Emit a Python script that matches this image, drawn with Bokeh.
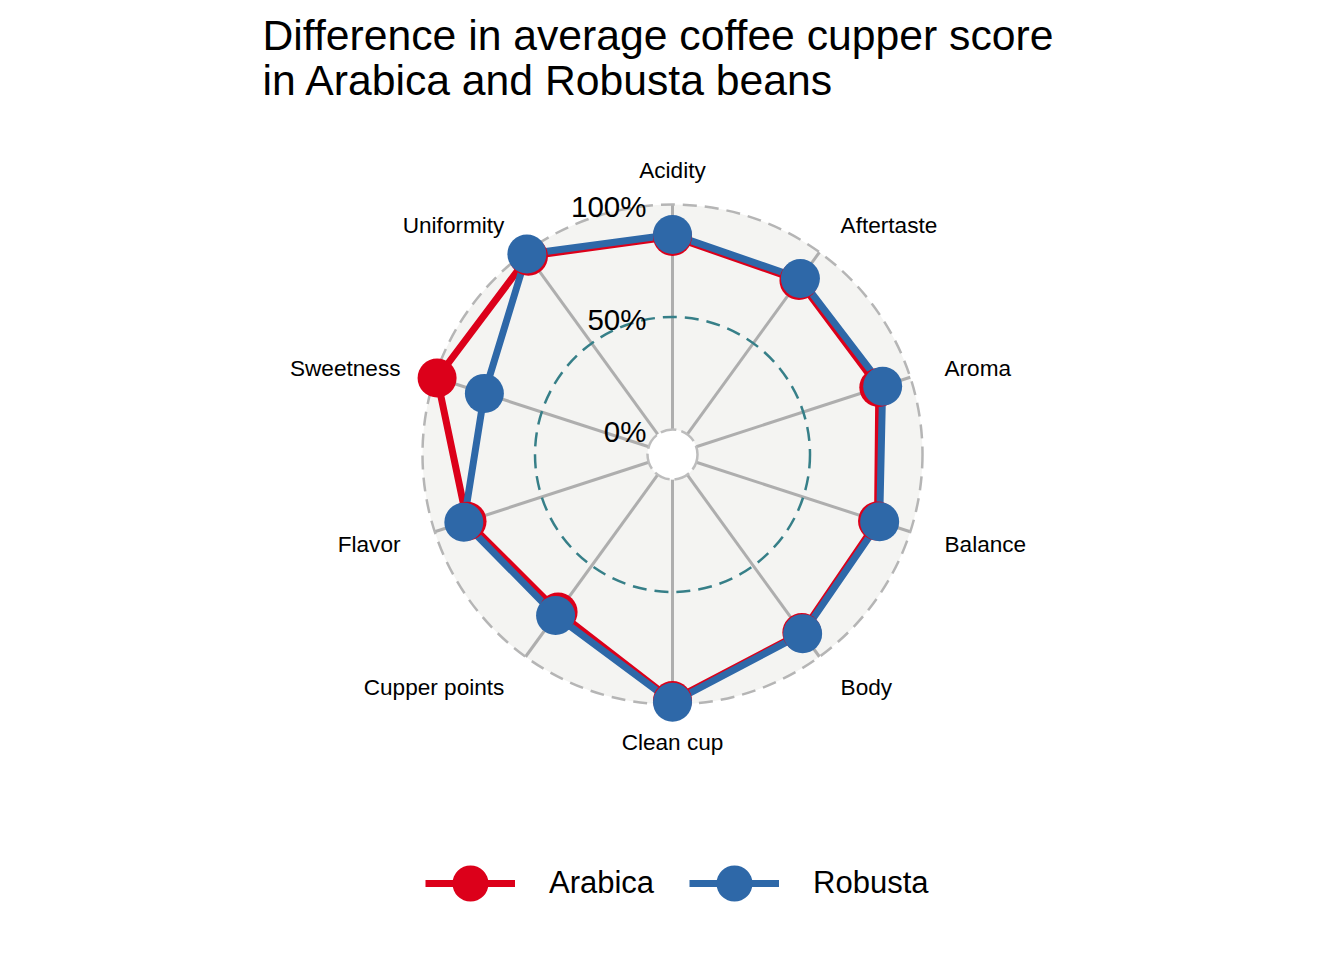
import numpy as np
from bokeh.plotting import figure
from bokeh.models import Range1d, Legend, LegendItem
from bokeh.embed import file_html
from bokeh.resources import INLINE
from bokeh.core.properties import value

# ---------------- data ----------------
categories = ["Acidity", "Aftertaste", "Aroma", "Balance", "Body",
              "Clean cup", "Cupper points", "Flavor", "Sweetness", "Uniformity"]
arabica = [0.858, 0.845, 0.853, 0.847, 0.867, 0.982, 0.754, 0.849, 0.989, 0.978]
robusta = [0.867, 0.856, 0.871, 0.857, 0.873, 0.990, 0.773, 0.864, 0.768, 0.990]
series_names = ["Arabica", "Robusta"]
series_colors = ["#DC001A", "#2E68A8"]
grid_values = [0.0, 0.5, 1.0]
grid_labels = ["0%", "50%", "100%"]
title_lines = ["Difference in average coffee cupper score",
               "in Arabica and Robusta beans"]

# ---------------- geometry ----------------
R = 250.0                       # pixel radius of grid max
grid_min, grid_max = 0.0, 1.0
centre_y = grid_min - (grid_max - grid_min) / 9.0


def rad(v):
    return (np.asarray(v, dtype=float) - centre_y) / (grid_max - centre_y) * R


n = len(categories)
theta = np.arange(n) * 2 * np.pi / n
sin_t, cos_t = np.sin(theta), np.cos(theta)

FONT = value("Liberation Sans")

p = figure(width=1328, height=944,
           x_range=Range1d(-672, 656), y_range=Range1d(-490, 454),
           output_backend="svg", toolbar_location=None,
           x_axis_type=None, y_axis_type=None, min_border=0)
p.outline_line_color = None
p.background_fill_color = "white"
p.border_fill_color = "white"

# background disk
p.circle(x=[0], y=[0], radius=[rad(grid_max)], fill_color="#F4F4F2",
         line_color=None)

# axis lines
r0 = rad(grid_min)
r1 = rad(grid_max)
p.segment(x0=r0 * sin_t, y0=r0 * cos_t, x1=r1 * sin_t, y1=r1 * cos_t,
          line_color="#AEAEAE", line_width=3)

# grid circles
p.circle(x=[0], y=[0], radius=[rad(grid_min)], fill_color="white",
         line_color="#BDBDBD", line_width=2.5, line_dash="16 5")
p.circle(x=[0], y=[0], radius=[rad(0.5)], fill_color=None,
         line_color="#367F88", line_width=2.5, line_dash="14 8")
p.circle(x=[0], y=[0], radius=[rad(grid_max)], fill_color=None,
         line_color="#B5B5B5", line_width=2.5, line_dash="14 8")

# axis labels
rl = rad(grid_max) + 36
lx = rl * sin_t
ly = rl * cos_t - 2
aligns = ["left" if x > 1 else ("right" if x < -1 else "center") for x in lx]
p.text(x=lx, y=ly, text=categories, text_align=aligns, text_baseline="middle",
       text_font=FONT, text_font_size="22.6px", text_color="black")

# series lines then points
line_r = []
for vals, col in zip([arabica, robusta], series_colors):
    r = rad(vals)
    xs = list(r * sin_t) + [r[0] * sin_t[0]]
    ys = list(r * cos_t) + [r[0] * cos_t[0]]
    line_r.append(p.line(xs, ys, line_color=col, line_width=7,
                         line_join="round"))
pt_r = []
for vals, col in zip([arabica, robusta], series_colors):
    r = rad(vals)
    pt_r.append(p.scatter(r * sin_t, r * cos_t, size=39, fill_color=col,
                          line_color=None, marker="circle"))

# grid labels
gr = rad(grid_values)
p.text(x=[-26] * len(gr), y=gr - 2, text=grid_labels, text_align="right",
       text_baseline="middle", text_font=FONT, text_font_size="29.5px",
       text_color="black")

# title
p.text(x=[-410, -410], y=[420, 375], text=title_lines, text_align="left",
       text_baseline="alphabetic", text_font=FONT, text_font_size="42.7px",
       text_color="black")

# legend
items = [LegendItem(label=nm, renderers=[lr, sr])
         for nm, lr, sr in zip(series_names, line_r, pt_r)]
legend = Legend(items=items, location=(425, 11), orientation="horizontal",
                glyph_width=90, glyph_height=100, label_standoff=34,
                spacing=35, padding=0, margin=0,
                label_text_font="Liberation Sans", label_text_font_size="31px",
                label_text_color="black",
                background_fill_alpha=0, border_line_alpha=0)
p.add_layout(legend)

open("out.html", "w").write(file_html(p, INLINE))
